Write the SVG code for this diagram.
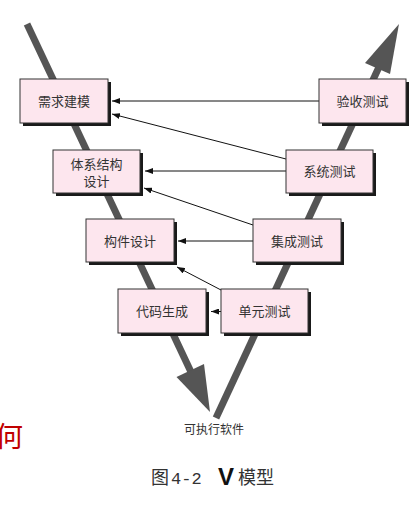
<svg xmlns="http://www.w3.org/2000/svg" width="418" height="516" viewBox="0 0 418 516">
<style>
.box{fill:#fde6ee;stroke:#333;stroke-width:1}
.sh{fill:#1a1a1a}
.t{font-family:"Noto Sans CJK SC","Noto Sans",sans-serif;font-size:13px;fill:#333;text-anchor:middle}
.c{stroke:#111;stroke-width:1;fill:none;marker-end:url(#ah)}
.v{stroke:#555;stroke-width:7;fill:none}
</style>
<defs>
<marker id="ah" viewBox="0 0 8 6" refX="8" refY="3" markerWidth="8" markerHeight="6" markerUnits="userSpaceOnUse" orient="auto">
<path d="M0,0 L8,3 L0,6 z" fill="#111"/>
</marker>
</defs>
<g id="v-arrows">
<line class="v" x1="27" y1="24" x2="191" y2="372"/>
<polygon points="210,412 176.5,377 204,364" fill="#555"/>
<line class="v" x1="216" y1="418" x2="379" y2="67"/>
<polygon points="399,24 365,63 390,74" fill="#555"/>
</g>
<g id="connectors">
<line class="c" x1="319" y1="101" x2="112" y2="101"/>
<line class="c" x1="286" y1="159" x2="112" y2="114"/>
<line class="c" x1="286" y1="171" x2="145" y2="171"/>
<line class="c" x1="253" y1="225" x2="144" y2="188"/>
<line class="c" x1="253" y1="241" x2="178" y2="241"/>
<line class="c" x1="221" y1="290" x2="177" y2="267"/>
<line class="c" x1="221" y1="311.5" x2="211" y2="311.5"/>
</g>
<g id="n1"><rect class="sh" x="23" y="82" width="88" height="44"/><rect class="box" x="20" y="79" width="88" height="44"/><text class="t" x="64" y="106">需求建模</text></g>
<g id="n2"><rect class="sh" x="56" y="153" width="87" height="43"/><rect class="box" x="53" y="150" width="87" height="43"/><text class="t" x="96.5" y="168.5">体系结构</text><text class="t" x="96.5" y="186">设计</text></g>
<g id="n3"><rect class="sh" x="89" y="222" width="88" height="43"/><rect class="box" x="86" y="219" width="88" height="43"/><text class="t" x="130" y="245.5">构件设计</text></g>
<g id="n4"><rect class="sh" x="121" y="292" width="88" height="44"/><rect class="box" x="118" y="289" width="88" height="44"/><text class="t" x="162" y="316">代码生成</text></g>
<g id="n5"><rect class="sh" x="322" y="82" width="87" height="44"/><rect class="box" x="319" y="79" width="87" height="44"/><text class="t" x="362.5" y="106">验收测试</text></g>
<g id="n6"><rect class="sh" x="289" y="153" width="87" height="43"/><rect class="box" x="286" y="150" width="87" height="43"/><text class="t" x="329.5" y="176">系统测试</text></g>
<g id="n7"><rect class="sh" x="256" y="222" width="88" height="43"/><rect class="box" x="253" y="219" width="88" height="43"/><text class="t" x="297" y="245.5">集成测试</text></g>
<g id="n8"><rect class="sh" x="224" y="292" width="87" height="44"/><rect class="box" x="221" y="289" width="87" height="44"/><text class="t" x="264.5" y="316">单元测试</text></g>
<text class="t" x="214" y="434" style="font-size:12px">可执行软件</text>
<text x="-5" y="447" style="font-family:'Noto Sans CJK SC',sans-serif;font-size:28px;fill:#c00000">何</text>
<g id="caption" style="font-size:18px;fill:#333">
<text x="151" y="484" style="font-family:'Noto Sans CJK SC',sans-serif">图</text>
<text x="171" y="484" style="font-family:'Liberation Mono',monospace;font-size:17px">4-2</text>
<text x="218" y="485" style="font-family:'Liberation Sans',sans-serif;font-weight:bold;font-size:24px;fill:#111">V</text>
<text x="238" y="484" style="font-family:'Noto Sans CJK SC',sans-serif">模型</text>
</g>
</svg>
